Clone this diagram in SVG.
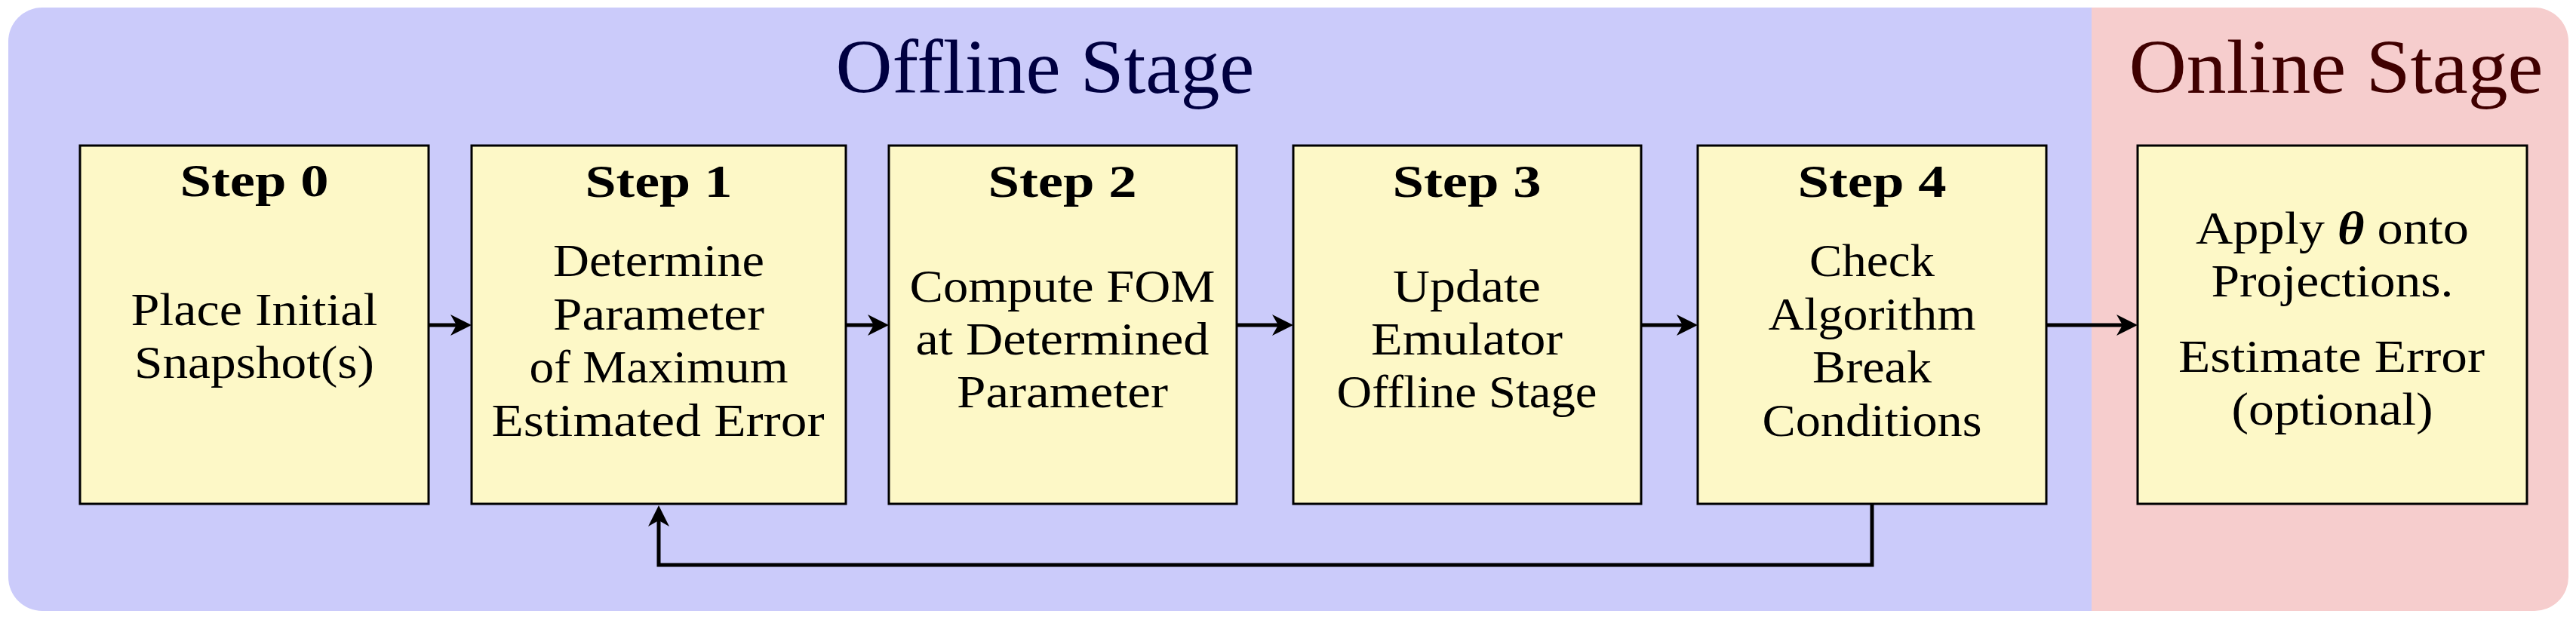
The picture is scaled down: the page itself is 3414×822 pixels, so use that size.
<svg xmlns="http://www.w3.org/2000/svg" width="3414" height="822" viewBox="0 0 3414 822">
<style>
.t{font-family:"Liberation Serif",serif;font-size:61px;fill:#000;text-anchor:middle}
.b{font-family:"Liberation Serif",serif;font-size:62px;font-weight:bold;fill:#000;text-anchor:middle}
.title{font-family:"Liberation Serif",serif;font-size:101px;text-anchor:middle}
.box{fill:#FDF8C7;stroke:#000;stroke-width:3}
.con{fill:none;stroke:#000;stroke-width:5}
</style>
<defs>
<marker id="arr" markerUnits="userSpaceOnUse" markerWidth="40" markerHeight="40" orient="auto" overflow="visible" refX="0" refY="0">
<path d="M 20 0 L -8 -14 L 0 0 L -8 14 Z" fill="#000"/>
</marker>
</defs>
<g id="background">
<path d="M 2772 10 H 56 A 45 45 0 0 0 11 55 V 765 A 45 45 0 0 0 56 810 H 2772 Z" fill="#CBCBFA"/>
<path d="M 2772 10 H 3359 A 45 45 0 0 1 3404 55 V 765 A 45 45 0 0 1 3359 810 H 2772 Z" fill="#F6CDCD"/>
<text class="title" x="1385" y="123" fill="#000040" textLength="555" lengthAdjust="spacingAndGlyphs">Offline Stage</text>
<text class="title" x="3096" y="123" fill="#400000" textLength="549" lengthAdjust="spacingAndGlyphs">Online Stage</text>
</g>
<g id="connectors">
<line class="con" x1="569" y1="431" x2="605" y2="431" marker-end="url(#arr)"/>
<line class="con" x1="1122" y1="431" x2="1158" y2="431" marker-end="url(#arr)"/>
<line class="con" x1="1640" y1="431" x2="1694" y2="431" marker-end="url(#arr)"/>
<line class="con" x1="2176" y1="431" x2="2230" y2="431" marker-end="url(#arr)"/>
<line class="con" x1="2713" y1="431" x2="2813" y2="431" marker-end="url(#arr)"/>
<path class="con" d="M 2481 669 V 749 H 873 V 690" marker-end="url(#arr)"/>
</g>
<g id="step0">
<rect class="box" x="106" y="193" width="462" height="475"/>
<text class="b" x="337" y="260" textLength="197" lengthAdjust="spacingAndGlyphs">Step 0</text>
<text class="t" x="337" y="431" textLength="327" lengthAdjust="spacingAndGlyphs">Place Initial</text>
<text class="t" x="337" y="501" textLength="318" lengthAdjust="spacingAndGlyphs">Snapshot(s)</text>
</g>
<g id="step1">
<rect class="box" x="625" y="193" width="496" height="475"/>
<text class="b" x="873" y="261" textLength="195" lengthAdjust="spacingAndGlyphs">Step 1</text>
<text class="t" x="873" y="366" textLength="280" lengthAdjust="spacingAndGlyphs">Determine</text>
<text class="t" x="873" y="437" textLength="280" lengthAdjust="spacingAndGlyphs">Parameter</text>
<text class="t" x="873" y="507" textLength="343" lengthAdjust="spacingAndGlyphs">of Maximum</text>
<text class="t" x="872" y="578" textLength="441" lengthAdjust="spacingAndGlyphs">Estimated Error</text>
</g>
<g id="step2">
<rect class="box" x="1178" y="193" width="461" height="475"/>
<text class="b" x="1408" y="261" textLength="197" lengthAdjust="spacingAndGlyphs">Step 2</text>
<text class="t" x="1408" y="400" textLength="405" lengthAdjust="spacingAndGlyphs">Compute FOM</text>
<text class="t" x="1408" y="470" textLength="389" lengthAdjust="spacingAndGlyphs">at Determined</text>
<text class="t" x="1408" y="540" textLength="280" lengthAdjust="spacingAndGlyphs">Parameter</text>
</g>
<g id="step3">
<rect class="box" x="1714" y="193" width="461" height="475"/>
<text class="b" x="1944" y="261" textLength="197" lengthAdjust="spacingAndGlyphs">Step 3</text>
<text class="t" x="1944" y="400" textLength="196" lengthAdjust="spacingAndGlyphs">Update</text>
<text class="t" x="1944" y="470" textLength="254" lengthAdjust="spacingAndGlyphs">Emulator</text>
<text class="t" x="1944" y="540" textLength="345" lengthAdjust="spacingAndGlyphs">Offline Stage</text>
</g>
<g id="step4">
<rect class="box" x="2250" y="193" width="462" height="475"/>
<text class="b" x="2481" y="261" textLength="197" lengthAdjust="spacingAndGlyphs">Step 4</text>
<text class="t" x="2481" y="366" textLength="166" lengthAdjust="spacingAndGlyphs">Check</text>
<text class="t" x="2481" y="437" textLength="275" lengthAdjust="spacingAndGlyphs">Algorithm</text>
<text class="t" x="2481" y="507" textLength="158" lengthAdjust="spacingAndGlyphs">Break</text>
<text class="t" x="2481" y="578" textLength="291" lengthAdjust="spacingAndGlyphs">Conditions</text>
</g>
<g id="online">
<rect class="box" x="2833" y="193" width="516" height="475"/>
<text class="t" x="3091" y="323" textLength="362" lengthAdjust="spacingAndGlyphs">Apply <tspan font-weight="bold" font-style="italic">θ</tspan> onto</text>
<text class="t" x="3091" y="393" textLength="321" lengthAdjust="spacingAndGlyphs">Projections.</text>
<text class="t" x="3090" y="493" textLength="406" lengthAdjust="spacingAndGlyphs">Estimate Error</text>
<text class="t" x="3091" y="563" textLength="267" lengthAdjust="spacingAndGlyphs">(optional)</text>
</g>
</svg>
